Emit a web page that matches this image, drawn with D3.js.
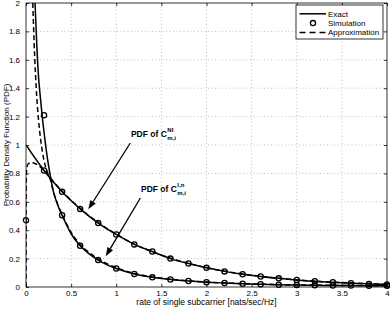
<!DOCTYPE html>
<html>
<head>
<meta charset="utf-8">
<script src="https://cdn.jsdelivr.net/npm/d3@7"></script>
<style>
  html, body { margin: 0; padding: 0; background: #fff; }
  svg { display: block; font-family: "Liberation Sans", Arial, sans-serif; }
</style>
</head>
<body>
<svg id="chart" width="390" height="310"></svg>
<script>
(function () {
  // ---------- Data ----------

  const xTicks = [0, 0.5, 1, 1.5, 2, 2.5, 3, 3.5, 4];
  const xTickLabels = ["0", "0.5", "1", "1.5", "2", "2.5", "3", "3.5", "4"];
  const yTicks = [0, 0.2, 0.4, 0.6, 0.8, 1, 1.2, 1.4, 1.6, 1.8, 2];
  const yTickLabels = ["0", "0.2", "0.4", "0.6", "0.8", "1", "1.2", "1.4", "1.6", "1.8", "2"];

  const simRate = [0, 0.2, 0.4, 0.6, 0.8, 1.0, 1.2, 1.4, 1.6, 1.8, 2.0,
    2.2, 2.4, 2.6, 2.8, 3.0, 3.2, 3.4, 3.6, 3.8, 4.0];

  // PDF of C^NI
  const niExactRate = simRate;
  const niExactPdf = [1.00, 0.82, 0.67, 0.55, 0.45, 0.37, 0.30, 0.25, 0.20, 0.165, 0.135,
    0.11, 0.09, 0.074, 0.061, 0.05, 0.04, 0.033, 0.027, 0.022, 0.018];
  const niSimPdf = [0.47, 0.82, 0.67, 0.55, 0.45, 0.37, 0.30, 0.25, 0.20, 0.165, 0.135,
    0.11, 0.09, 0.074, 0.061, 0.05, 0.04, 0.033, 0.027, 0.022, 0.018];
  const niApproxRate = [0, 0.002, 0.006, 0.015, 0.03, 0.06, 0.1, 0.15, 0.2, 0.3, 0.4, 0.5,
    0.6, 0.7, 0.8, 0.9, 1.0, 1.2, 1.4, 1.6, 2.0, 2.5, 3.0, 3.5, 4.0];
  const niApproxPdf = [0, 0.7, 0.82, 0.855, 0.87, 0.875, 0.87, 0.85, 0.82, 0.745, 0.675, 0.61,
    0.555, 0.5, 0.455, 0.41, 0.372, 0.302, 0.248, 0.203, 0.136, 0.083, 0.05, 0.031, 0.019];

  // PDF of C^{I,n}
  const inExactRate = [0.1, 0.12, 0.14, 0.16, 0.18, 0.2, 0.22, 0.24, 0.27, 0.3, 0.35, 0.4,
    0.5, 0.6, 0.7, 0.8, 0.9, 1.0, 1.2, 1.4, 1.6, 1.8, 2.0, 2.2, 2.4, 2.6, 2.8, 3.0,
    3.2, 3.4, 3.6, 3.8, 4.0];
  const inExactPdf = [2.0, 1.7, 1.47, 1.33, 1.2, 1.09, 0.985, 0.895, 0.78, 0.68, 0.58, 0.505,
    0.375, 0.29, 0.233, 0.19, 0.156, 0.13, 0.092, 0.068, 0.053, 0.042, 0.034, 0.028, 0.023,
    0.019, 0.016, 0.014, 0.012, 0.011, 0.01, 0.009, 0.008];
  const inSimRate = simRate.slice(1);
  const inSimPdf = [1.21, 0.505, 0.29, 0.19, 0.13, 0.092, 0.068, 0.053, 0.042, 0.034,
    0.028, 0.023, 0.019, 0.016, 0.014, 0.012, 0.011, 0.01, 0.009, 0.008];
  const inApproxRate = [0.075, 0.09, 0.105, 0.12, 0.14, 0.16, 0.18, 0.2, 0.23, 0.27, 0.3,
    0.35, 0.4, 0.5, 0.6, 0.7, 0.8, 0.9, 1.0, 1.2, 1.4, 1.6, 1.8, 2.0, 2.5, 3.0, 3.5, 4.0];
  const inApproxPdf = [2.0, 1.72, 1.5, 1.33, 1.17, 1.05, 0.96, 0.89, 0.82, 0.755, 0.68,
    0.585, 0.51, 0.385, 0.3, 0.243, 0.198, 0.163, 0.136, 0.096, 0.071, 0.055, 0.043, 0.035,
    0.022, 0.015, 0.011, 0.009];

  const legendLabels = ["Exact", "Simulation", "Approximation"];

  // ---------- Layout ----------

  const width = 390;
  const height = 310;
  const margin = { top: 3, right: 3, bottom: 23, left: 26 };
  const innerW = width - margin.left - margin.right;
  const innerH = height - margin.top - margin.bottom;

  const svg = d3.select("#chart");
  const g = svg.append("g")
    .attr("transform", `translate(${margin.left},${margin.top})`);

  const x = d3.scaleLinear().domain([0, 4]).range([0, innerW]);
  const y = d3.scaleLinear().domain([0, 2]).range([innerH, 0]);

  const zip = (xs, ys) => xs.map((v, i) => [v, ys[i]]);

  svg.append("defs").append("clipPath")
    .attr("id", "plotClip")
    .append("rect")
    .attr("width", innerW)
    .attr("height", innerH);

  // ---------- Grid ----------

  g.append("g")
    .selectAll("line.vgrid")
    .data(xTicks.slice(1, -1))
    .join("line")
    .attr("class", "vgrid")
    .attr("x1", d => x(d)).attr("x2", d => x(d))
    .attr("y1", 0).attr("y2", innerH)
    .attr("stroke", "#b0b0b0")
    .attr("stroke-width", 0.8)
    .attr("stroke-dasharray", "1,2.5");

  g.append("g")
    .selectAll("line.hgrid")
    .data(yTicks.slice(1, -1))
    .join("line")
    .attr("class", "hgrid")
    .attr("x1", 0).attr("x2", innerW)
    .attr("y1", d => y(d)).attr("y2", d => y(d))
    .attr("stroke", "#b0b0b0")
    .attr("stroke-width", 0.8)
    .attr("stroke-dasharray", "1,2.5");

  // ---------- Curves ----------

  const line = d3.line()
    .x(d => x(d[0]))
    .y(d => y(d[1]))
    .curve(d3.curveMonotoneX);

  const curves = g.append("g").attr("clip-path", "url(#plotClip)");

  [
    { pts: zip(niExactRate, niExactPdf), dash: null },
    { pts: zip(inExactRate, inExactPdf), dash: null },
    { pts: zip(niApproxRate, niApproxPdf), dash: "5,3" },
    { pts: zip(inApproxRate, inApproxPdf), dash: "5,3" }
  ].forEach(c => {
    curves.append("path")
      .attr("d", line(c.pts))
      .attr("fill", "none")
      .attr("stroke", "#000")
      .attr("stroke-width", 1.5)
      .attr("stroke-dasharray", c.dash);
  });

  const simPoints = zip(simRate, niSimPdf).concat(zip(inSimRate, inSimPdf));
  g.append("g")
    .selectAll("circle")
    .data(simPoints)
    .join("circle")
    .attr("cx", d => x(d[0]))
    .attr("cy", d => y(d[1]))
    .attr("r", 2.6)
    .attr("fill", "none")
    .attr("stroke", "#000")
    .attr("stroke-width", 1.3);

  // ---------- Axes (MATLAB style box, inside ticks) ----------

  g.append("rect")
    .attr("width", innerW)
    .attr("height", innerH)
    .attr("fill", "none")
    .attr("stroke", "#000")
    .attr("stroke-width", 0.8);

  const tickLen = 3;
  const axisBottom = d3.axisBottom(x).tickValues(xTicks)
    .tickFormat((d, i) => xTickLabels[i]).tickSize(-tickLen).tickPadding(3);
  const axisLeft = d3.axisLeft(y).tickValues(yTicks)
    .tickFormat((d, i) => yTickLabels[i]).tickSize(-tickLen).tickPadding(6);
  const axisTop = d3.axisTop(x).tickValues(xTicks).tickFormat("").tickSize(-tickLen);
  const axisRight = d3.axisRight(y).tickValues(yTicks).tickFormat("").tickSize(-tickLen);

  function styleAxis(sel) {
    sel.select(".domain").remove();
    sel.selectAll(".tick line").attr("stroke", "#000").attr("stroke-width", 0.8);
    sel.selectAll(".tick text")
      .attr("fill", "#000")
      .style("font-size", "8px")
      .style("font-family", "'Liberation Sans', Arial, sans-serif");
  }

  g.append("g").attr("transform", `translate(0,${innerH})`).call(axisBottom).call(styleAxis);
  g.append("g").call(axisLeft).call(styleAxis);
  g.append("g").call(axisTop).call(styleAxis);
  g.append("g").attr("transform", `translate(${innerW},0)`).call(axisRight).call(styleAxis);

  g.append("text")
    .attr("x", innerW / 2)
    .attr("y", innerH + 18)
    .attr("text-anchor", "middle")
    .style("font-size", "8.5px")
    .text("rate of single subcarrier [nats/sec/Hz]");

  svg.append("text")
    .attr("transform", `translate(8.5,${margin.top + innerH / 2}) rotate(-90)`)
    .attr("text-anchor", "middle")
    .style("font-size", "8px")
    .text("Probability Density Function (PDF)");

  // ---------- Annotations ----------

  const annotations = [
    { label: [1.163, 1.058], tail: [1.156, 1.014], tip: [0.69, 0.547], sup: "NI", sub: "m,i" },
    { label: [1.274, 0.671], tail: [1.267, 0.627], tip: [0.883, 0.216], sup: "I,n", sub: "m,i" }
  ];

  annotations.forEach(a => {
    const x0 = x(a.tail[0]), y0 = y(a.tail[1]);
    const x1 = x(a.tip[0]), y1 = y(a.tip[1]);
    const ang = Math.atan2(y1 - y0, x1 - x0);
    const headLen = 9, headHalf = 3.2;
    const bx = x1 - headLen * Math.cos(ang), by = y1 - headLen * Math.sin(ang);

    g.append("line")
      .attr("x1", x0).attr("y1", y0)
      .attr("x2", bx).attr("y2", by)
      .attr("stroke", "#000")
      .attr("stroke-width", 1.3);

    g.append("path")
      .attr("d", `M${x1},${y1}`
        + `L${bx - headHalf * Math.sin(ang)},${by + headHalf * Math.cos(ang)}`
        + `L${bx + headHalf * Math.sin(ang)},${by - headHalf * Math.cos(ang)}Z`)
      .attr("fill", "#000");

    const t = g.append("text")
      .attr("x", x(a.label[0]))
      .attr("y", y(a.label[1]))
      .style("font-size", "8.5px")
      .style("font-weight", "bold")
      .text("PDF of C");
    const endX = x(a.label[0]) + t.node().getComputedTextLength() + 0.5;

    g.append("text")
      .attr("x", endX)
      .attr("y", y(a.label[1]) - 5)
      .style("font-size", "6px")
      .style("font-weight", "bold")
      .text(a.sup);
    g.append("text")
      .attr("x", endX)
      .attr("y", y(a.label[1]) + 3)
      .style("font-size", "6px")
      .style("font-weight", "bold")
      .text(a.sub);
  });

  // ---------- Legend ----------

  const legend = svg.append("g").attr("transform", "translate(296,5)");
  legend.append("rect")
    .attr("width", 87)
    .attr("height", 34)
    .attr("fill", "#fff")
    .attr("stroke", "#000")
    .attr("stroke-width", 0.8);

  legendLabels.forEach((label, i) => {
    const cy = 8.8 + i * 9.3;
    if (i === 1) {
      legend.append("circle")
        .attr("cx", 17).attr("cy", cy)
        .attr("r", 2.6)
        .attr("fill", "none")
        .attr("stroke", "#000")
        .attr("stroke-width", 1.3);
    } else {
      legend.append("line")
        .attr("x1", 3.5).attr("x2", 30)
        .attr("y1", cy).attr("y2", cy)
        .attr("stroke", "#000")
        .attr("stroke-width", 1.5)
        .attr("stroke-dasharray", i === 2 ? "6,4" : null);
    }
    legend.append("text")
      .attr("x", 32)
      .attr("y", cy + 3)
      .style("font-size", "8px")
      .text(label);
  });
})();
</script>
</body>
</html>
